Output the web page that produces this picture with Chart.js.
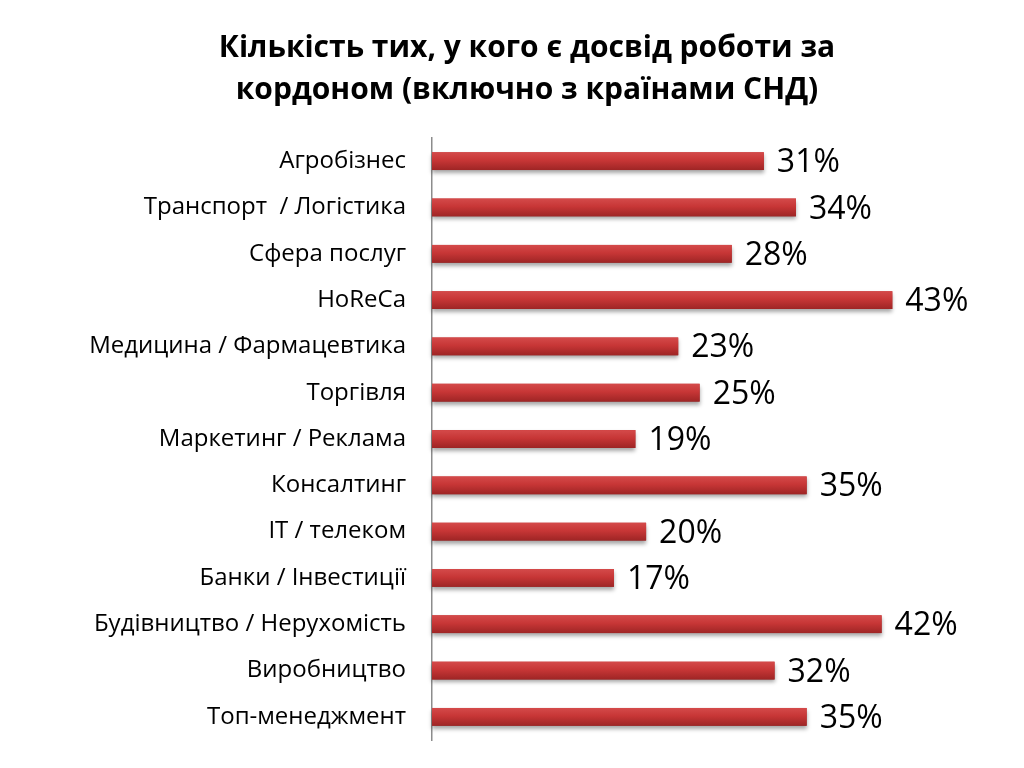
<!DOCTYPE html>
<html>
<head>
<meta charset="utf-8">
<script src="https://cdn.jsdelivr.net/npm/chart.js@4"></script>
<style>
  html, body { margin: 0; padding: 0; background: #fff; }
  #wrap { width: 1024px; height: 768px; }
</style>
</head>
<body>
<div id="wrap"><canvas id="chart" width="1024" height="768"></canvas></div>
<script>
const titleLines = ['Кількість тих, у кого є досвід роботи за', 'кордоном (включно з країнами СНД)'];
const categories = [
  'Агробізнес',
  'Транспорт  / Логістика',
  'Сфера послуг',
  'HoReCa',
  'Медицина / Фармацевтика',
  'Торгівля',
  'Маркетинг / Реклама',
  'Консалтинг',
  'IT / телеком',
  'Банки / Інвестиції',
  'Будівництво / Нерухомість',
  'Виробництво',
  'Топ-менеджмент'
];
const shares = [31, 34, 28, 43, 23, 25, 19, 35, 20, 17, 42, 32, 35];

// shaded bar look + value labels at the bar ends
const barLook = {
  id: 'barLook',
  afterDatasetsDraw(chart) {
    const ctx = chart.ctx;
    const meta = chart.getDatasetMeta(0);
    meta.data.forEach((bar, i) => {
      const top = bar.y - bar.height / 2;
      const g = ctx.createLinearGradient(0, top, 0, top + bar.height);
      g.addColorStop(0, '#d44a4a');
      g.addColorStop(0.45, '#c73636');
      g.addColorStop(1, '#9e2525');
      ctx.save();
      ctx.shadowColor = 'rgba(0,0,0,0.35)';
      ctx.shadowOffsetY = 3;
      ctx.shadowBlur = 4;
      ctx.fillStyle = g;
      ctx.fillRect(bar.base, top, bar.x - bar.base, bar.height);
      ctx.restore();

      ctx.save();
      ctx.fillStyle = '#000';
      ctx.font = '32px "Open Sans", sans-serif';
      ctx.textAlign = 'left';
      ctx.textBaseline = 'middle';
      ctx.fillText(shares[i] + '%', bar.x + 13, bar.y + 2);
      ctx.restore();
    });
  }
};

const ctx = document.getElementById('chart').getContext('2d');
new Chart(ctx, {
  type: 'bar',
  data: {
    labels: categories,
    datasets: [{
      data: shares,
      backgroundColor: '#c73636',
      barPercentage: 0.8,
      categoryPercentage: 0.48
    }]
  },
  options: {
    indexAxis: 'y',
    responsive: false,
    animation: false,
    layout: { padding: { left: 30, right: 0, top: 10, bottom: 28 } },
    plugins: {
      legend: { display: false },
      tooltip: { enabled: false },
      title: {
        display: true,
        text: titleLines,
        color: '#000',
        font: { family: '"Open Sans", sans-serif', size: 30, weight: 'bold', lineHeight: 1.4 },
        padding: { top: 17, bottom: 27 }
      }
    },
    scales: {
      x: {
        display: false,
        min: 0,
        max: 55.3
      },
      y: {
        afterFit(scale) {
          scale.width = 402;
          scale.paddingTop = 0;
          scale.paddingBottom = 0;
        },
        grid: { display: false, drawTicks: false },
        border: { display: true, color: '#8c8c8c', width: 1.5 },
        ticks: {
          color: '#000',
          padding: 26,
          font: { family: '"Open Sans", sans-serif', size: 24 }
        }
      }
    }
  },
  plugins: [barLook]
});
</script>
</body>
</html>
